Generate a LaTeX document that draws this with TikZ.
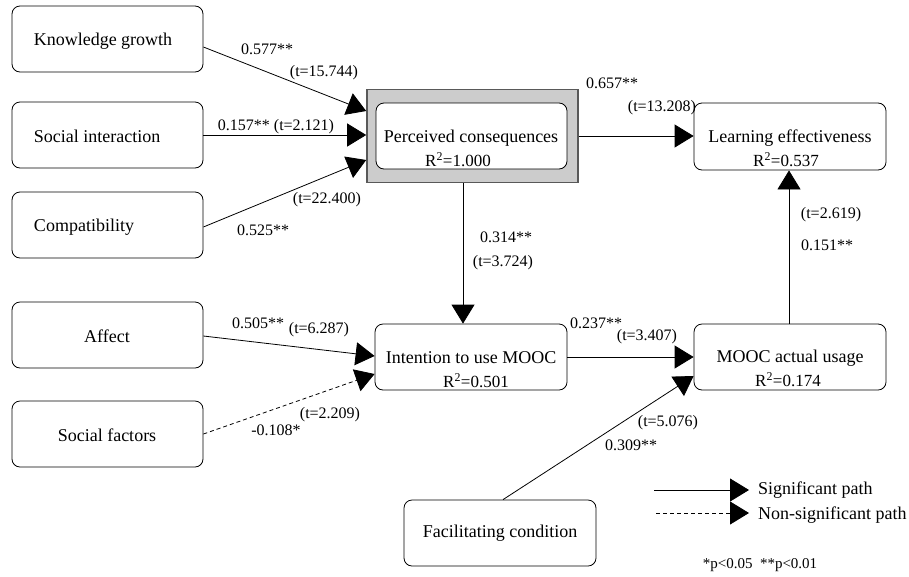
\documentclass[tikz,border=0pt]{standalone}
\usepackage{fontspec}
\setmainfont{Liberation Serif}
\usetikzlibrary{arrows.meta,calc}
\tikzset{
  box/.style={draw=black, line width=0.8pt, rounded corners=8pt, minimum width=191pt, minimum height=66pt, inner sep=0pt},
  graybox/.style={draw=black!65, line width=1.6pt, fill=black!20, minimum width=211pt, minimum height=93pt, inner sep=0pt},
  btxt/.style={font=\fontsize{18}{20}\selectfont, inner sep=0pt},
  rtxt/.style={font=\fontsize{17}{19}\selectfont, inner sep=0pt},
  lbl/.style={font=\fontsize{16}{18}\selectfont, inner sep=0pt},
  path/.style={draw=black, line width=0.8pt, -{Triangle[length=19pt,width=23pt]}},
  nspath/.style={path, dash pattern=on 4pt off 3pt},
}
\begin{document}
\begin{tikzpicture}[x=1pt,y=-1pt]
\useasboundingbox (0,0) rectangle (909,576);
% boxes
\node[box] (kg) at (107.5,39) {};
\node[box] (si) at (107.5,135) {};
\node[box] (comp) at (107.5,225) {};
\node[graybox] (gray) at (472.5,136) {};
\node[box, fill=white] (pc) at (471.5,136) {};
\node[box, minimum width=192pt, minimum height=67pt] (le) at (790,136.5) {};
\node[box] (aff) at (107.5,335) {};
\node[box] (sf) at (107.5,434) {};
\node[box, minimum width=192pt] (int) at (471,357) {};
\node[box, minimum width=192pt] (mooc) at (790,357) {};
\node[box, minimum width=192pt] (fc) at (500,533) {};
% box texts
\node[btxt] (kgt) at (103,41) {Knowledge growth};
\node[btxt] (sit) at (97,136) {Social interaction};
\node[btxt] (compt) at (84,227) {Compatibility};
\node[btxt] (pct) at (471,138) {Perceived consequences};
\node[rtxt] (pcr) at (458,160) {R\textsuperscript{2}=1.000};
\node[btxt] (let) at (790,138) {Learning effectiveness};
\node[rtxt] (ler) at (786,160) {R\textsuperscript{2}=0.537};
\node[btxt] (afft) at (107,336) {Affect};
\node[btxt] (sft) at (107,435) {Social factors};
\node[btxt] (intt) at (471,358) {Intention to use MOOC};
\node[rtxt] (intr) at (476,381) {R\textsuperscript{2}=0.501};
\node[btxt] (moot) at (790,358) {MOOC actual usage};
\node[rtxt] (moor) at (788,380) {R\textsuperscript{2}=0.174};
\node[btxt] (fct) at (500,533) {Facilitating condition};
% paths
\draw[path] ($(kg.east)+(0,8)$) -- ($(gray.west)+(0,-25)$);
\draw[path] (si.east) -- (si.east -| gray.west);
\draw[path] ($(comp.east)+(0,2)$) -- ($(gray.west)+(0,24)$);
\draw[path] (gray.east) -- (gray.east -| le.west);
\coordinate (pcd) at ($(gray.south)+(-9.5,0)$);
\draw[path] (pcd) -- (pcd |- int.north);
\coordinate (mu) at ($(mooc.north)+(-1,0)$);
\draw[path] (mu) -- (mu |- le.south);
\draw[path] (int.east) -- (int.east -| mooc.west);
\draw[path] ($(aff.east)+(0,1)$) -- ($(int.west)+(0,-1)$);
\draw[nspath] (sf.east) -- ($(int.west)+(0,17)$);
\draw[path] ($(fc.north)+(3,0)$) -- ($(mooc.west)+(0,19)$);
% labels
\node[lbl] (l1) at (267,49) {0.577**};
\node[lbl] (l2) at (324,73) {(t=15.744)};
\node[lbl] (l3) at (276,127) {0.157** (t=2.121)};
\node[lbl] (l4) at (327,200) {(t=22.400)};
\node[lbl] (l5) at (263,230) {0.525**};
\node[lbl] (l6) at (612,83) {0.657**};
\node[lbl] (l7) at (662,108) {(t=13.208)};
\node[lbl] (l8) at (506,237) {0.314**};
\node[lbl] (l9) at (503,263) {(t=3.724)};
\node[lbl] (l10) at (831,215) {(t=2.619)};
\node[lbl] (l11) at (827,245) {0.151**};
\node[lbl] (l12) at (258,323) {0.505**};
\node[lbl] (l13) at (319,330) {(t=6.287)};
\node[lbl] (l14) at (330,415) {(t=2.209)};
\node[lbl] (l15) at (276,430) {-0.108*};
\node[lbl] (l16) at (596,323) {0.237**};
\node[lbl] (l17) at (647,337) {(t=3.407)};
\node[lbl] (l18) at (668,423) {(t=5.076)};
\node[lbl] (l19) at (631,445) {0.309**};
% legend
\coordinate (g1a) at (654,490);
\coordinate (g1b) at (749,490);
\coordinate (g2a) at (656,513);
\coordinate (g2b) at (749,513);
\draw[path] (g1a) -- (g1b);
\draw[nspath] (g2a) -- (g2b);
\node[btxt, anchor=west] (sigt) at (758,490) {Significant path};
\node[btxt, anchor=west] (nsigt) at (758,515) {Non-significant path};
\node[lbl, font=\fontsize{15}{17}\selectfont] (pval) at (760,565) {*p<0.05\ \ **p<0.01};
\end{tikzpicture}
\end{document}
